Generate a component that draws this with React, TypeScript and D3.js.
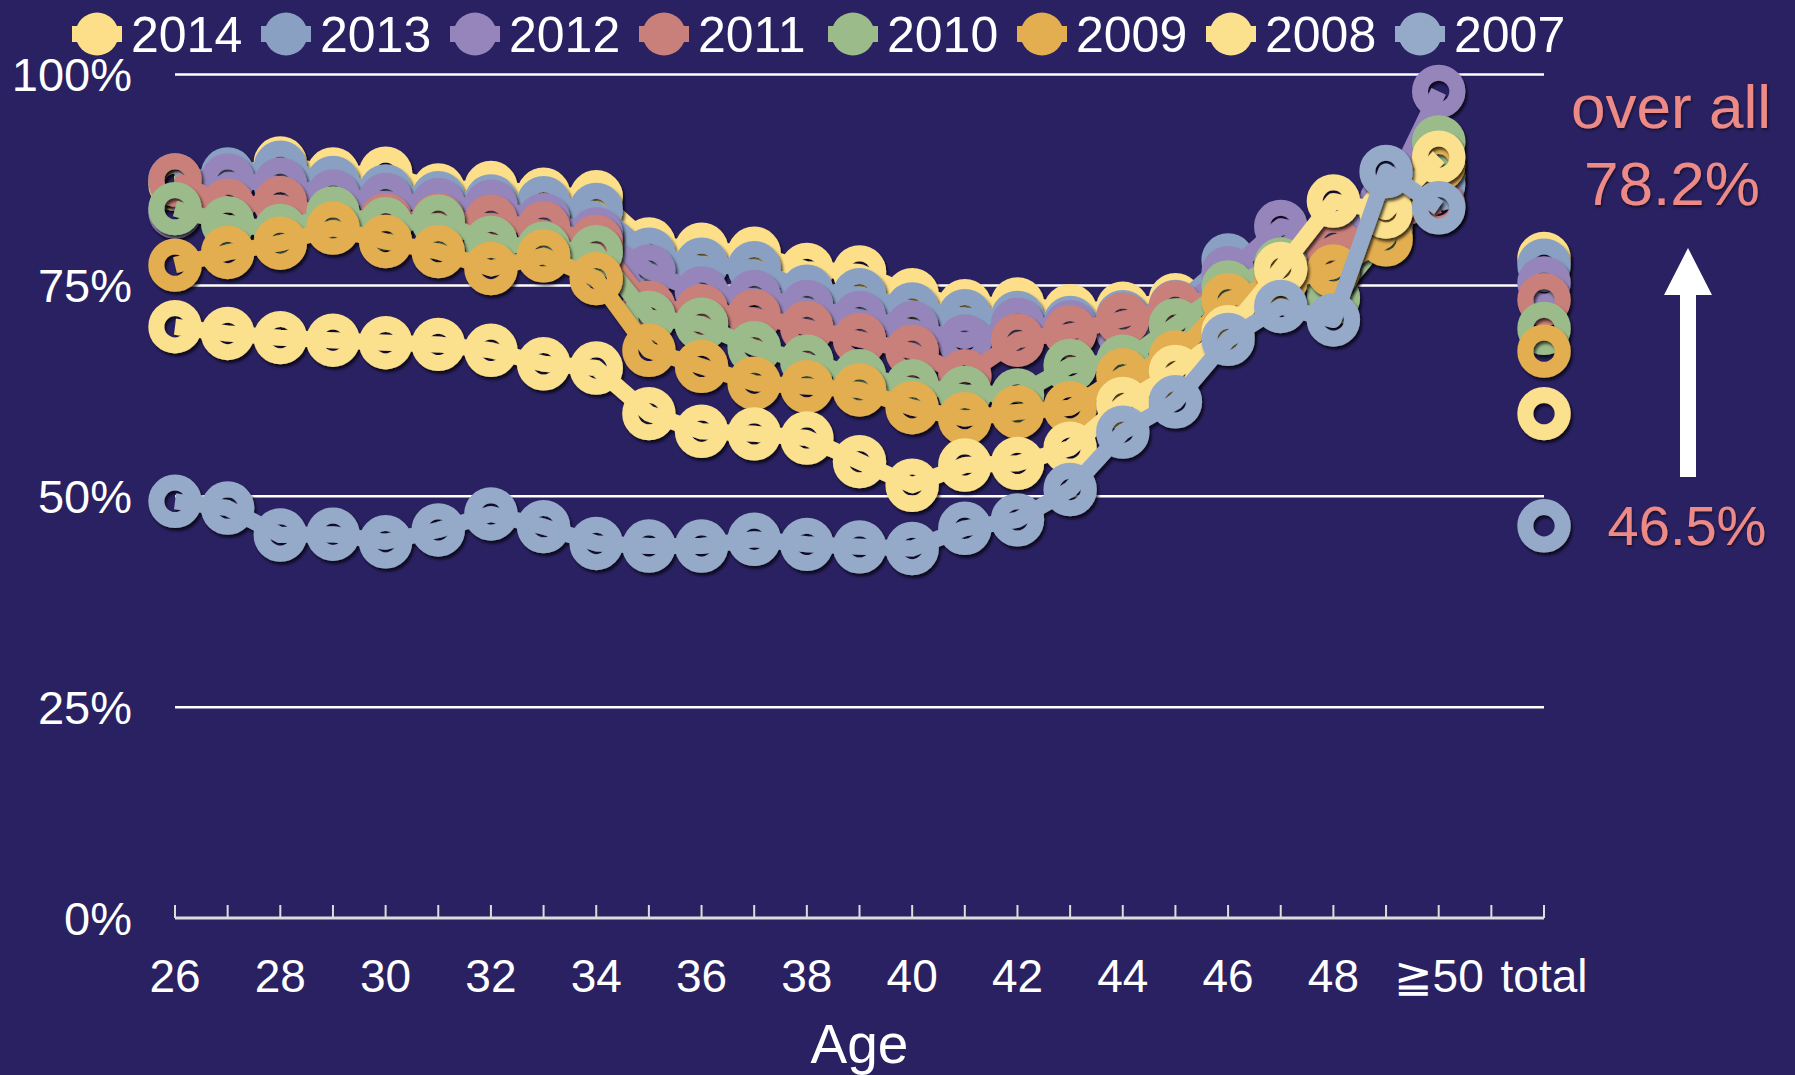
import * as d3 from 'd3';

// x categories: single ages, the 50+ bucket, an empty slot, then the overall total
const ages = ['26', '27', '28', '29', '30', '31', '32', '33', '34', '35', '36', '37', '38',
  '39', '40', '41', '42', '43', '44', '45', '46', '47', '48', '49', '≧50'];
const categories = [...ages, 'gap', 'total'];

const years = ['2014', '2013', '2012', '2011', '2010', '2009', '2008', '2007'];

// percentages per age (26 .. ≧50)
const v2014 = [87.0, 87.8, 89.5, 88.2, 88.3, 86.3, 86.6, 85.8, 85.5, 79.9, 79.3, 78.8, 76.9,
  76.6, 73.9, 72.6, 72.8, 72.0, 72.3, 73.3, 75.0, 77.0, 81.0, 82.5, 88.0];
const v2013 = [87.5, 88.2, 89.0, 87.2, 86.2, 85.4, 85.0, 84.8, 84.0, 78.7, 77.5, 77.1, 74.3,
  73.9, 72.2, 71.4, 71.2, 70.6, 71.3, 72.5, 78.0, 79.5, 80.5, 83.0, 87.0];
const v2012 = [83.7, 87.5, 87.0, 85.6, 85.2, 84.6, 84.4, 82.8, 81.1, 76.7, 74.1, 73.7, 72.5,
  71.2, 70.0, 68.4, 70.4, 70.1, 69.5, 72.0, 76.5, 82.0, 80.8, 85.0, 98.0];
const v2011 = [87.5, 84.5, 84.8, 83.0, 82.8, 82.8, 82.6, 81.8, 80.2, 72.4, 72.0, 71.4, 70.0,
  68.6, 67.2, 64.3, 68.5, 69.5, 71.0, 72.4, 74.0, 77.0, 80.0, 82.0, 84.5];
const v2010 = [84.1, 82.4, 81.5, 83.6, 82.3, 82.6, 80.1, 79.4, 79.0, 71.2, 70.4, 67.6, 66.0,
  64.3, 63.1, 62.3, 62.0, 65.5, 66.0, 70.3, 74.8, 77.5, 73.5, 81.0, 92.0];
const v2009 = [77.4, 78.9, 80.0, 81.8, 80.2, 79.0, 77.0, 78.5, 75.8, 67.3, 65.4, 63.4, 63.0,
  62.6, 60.5, 59.2, 60.0, 60.5, 64.4, 66.5, 73.3, 75.5, 76.7, 80.4, 89.3];
const v2008 = [70.1, 69.3, 68.8, 68.5, 68.2, 68.0, 67.3, 65.7, 65.2, 59.8, 57.7, 57.4, 56.9,
  54.1, 51.3, 53.7, 53.9, 55.7, 61.0, 64.8, 69.5, 77.0, 85.0, 83.7, 90.2];
const v2007 = [49.4, 48.6, 45.4, 45.5, 44.6, 46.0, 47.9, 46.4, 44.4, 44.1, 44.1, 44.9, 44.3,
  44.0, 43.8, 46.2, 47.2, 50.8, 57.6, 61.2, 68.6, 72.5, 70.9, 88.5, 84.2];
const seriesValues = [v2014, v2013, v2012, v2011, v2010, v2009, v2008, v2007];

// overall value per year (the "total" column)
const totals = [78.2, 77.4, 75.3, 73.3, 69.9, 67.2, 59.8, 46.5];

const yTicks = [0, 25, 50, 75, 100];

const colors = ['#fcdf88', '#8aa0c3', '#9585bb', '#c97f7a', '#9bbc8a', '#e2ae50', '#fbe08e', '#95aac9'];

const W = 1795;
const H = 1075;
const BG = '#2a2162';
const ACCENT = '#ee8a85';
const FONT = '"Liberation Sans", Arial, sans-serif';

export default function App() {
  const x = d3.scalePoint<string>().domain(categories).range([175, 1544]);
  const y = d3.scaleLinear().domain([0, 100]).range([918, 74.5]);

  const line = d3.line<number>()
    .x((_, i) => x(ages[i]) as number)
    .y(d => y(d));

  return (
    <svg width={W} height={H} style={{ position: 'absolute', left: 0, top: 0 }} fontFamily={FONT}>
      <defs>
        <filter id="shadow" filterUnits="userSpaceOnUse" x="0" y="0" width={W} height={H}>
          <feDropShadow dx="2" dy="3" stdDeviation="1.5" floodColor="#000" floodOpacity="0.7" />
        </filter>
        <filter id="textShadow" filterUnits="userSpaceOnUse" x="0" y="0" width={W} height={H}>
          <feDropShadow dx="1" dy="2" stdDeviation="1.5" floodColor="#000" floodOpacity="0.5" />
        </filter>
      </defs>
      <rect width={W} height={H} fill={BG} />

      {/* gridlines */}
      {yTicks.filter(t => t > 0).map(t => (
        <line key={t} x1={175} x2={1544} y1={y(t)} y2={y(t)} stroke="#ffffff" strokeWidth={2.5} />
      ))}

      {/* x axis with upward ticks */}
      <line x1={175} x2={1544} y1={y(0)} y2={y(0)} stroke="#dcdcdc" strokeWidth={3} />
      {categories.map(c => (
        <line key={c} x1={x(c)} x2={x(c)} y1={y(0)} y2={y(0) - 13} stroke="#dcdcdc" strokeWidth={2} />
      ))}
      {categories.map((c, i) => (i % 2 === 0 ? (
        <text key={c} x={x(c)} y={992} fill="#fff" fontSize={46} textAnchor="middle">{c}</text>
      ) : null))}
      <text x={(175 + 1544) / 2} y={1063} fill="#fff" fontSize={55} textAnchor="middle">Age</text>

      {/* y axis labels */}
      {yTicks.map(t => (
        <text key={t} x={132} y={y(t)} dy="0.36em" fill="#fff" fontSize={47} textAnchor="end">{t}%</text>
      ))}

      {/* series, oldest drawn last so it sits on top */}
      {years.map((yr, si) => (
        <g key={yr} filter="url(#shadow)">
          <path d={line(seriesValues[si]) || ''} fill="none" stroke={colors[si]} strokeWidth={16} strokeLinejoin="round" />
          {seriesValues[si].map((v, i) => (
            <circle key={i} cx={x(ages[i])} cy={y(v)} r={18.7} fill="none" stroke={colors[si]} strokeWidth={16} />
          ))}
          <circle cx={x('total')} cy={y(totals[si])} r={18.7} fill="none" stroke={colors[si]} strokeWidth={16} />
        </g>
      ))}

      {/* legend */}
      {years.map((yr, i) => {
        const cx = 97 + i * 189;
        return (
          <g key={yr}>
            <rect x={cx - 25} y={26} width={50} height={16} fill={colors[i]} />
            <circle cx={cx} cy={34} r={21.5} fill={colors[i]} />
            <text x={cx + 34} y={52} fill="#fff" fontSize={50}>{yr}</text>
          </g>
        );
      })}

      {/* annotation */}
      <g filter="url(#textShadow)">
        <text x={1671} y={128} fill={ACCENT} fontSize={62} textAnchor="middle">over all</text>
        <text x={1672} y={205} fill={ACCENT} fontSize={62} textAnchor="middle">{totals[0].toFixed(1)}%</text>
        <text x={1687} y={545} fill={ACCENT} fontSize={56} textAnchor="middle">{totals[7].toFixed(1)}%</text>
      </g>
      <path d="M1680,477 L1696,477 L1696,295 L1712,295 L1688,248 L1664,295 L1680,295 Z" fill="#fff" />
    </svg>
  );
}
